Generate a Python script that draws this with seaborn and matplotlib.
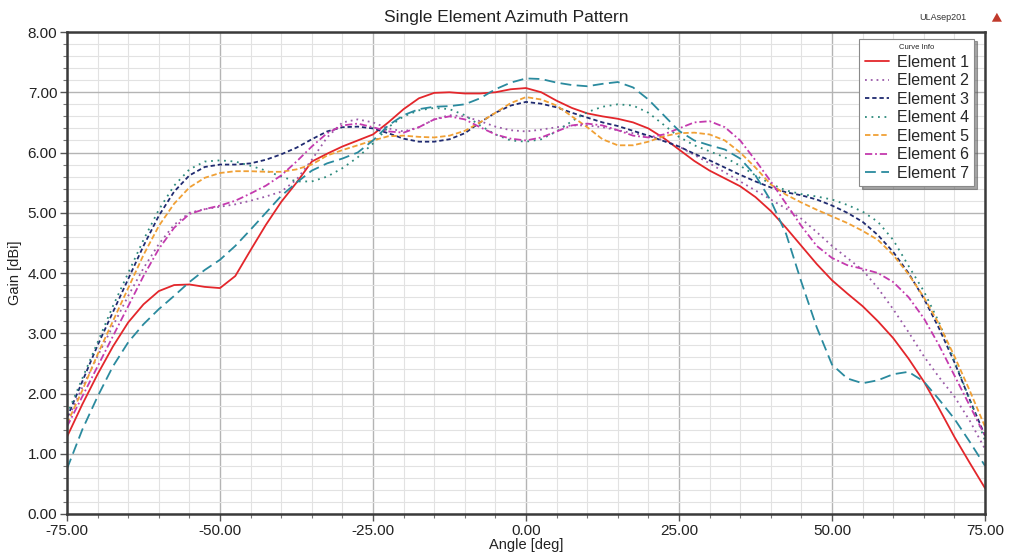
import numpy as np
import pandas as pd
import matplotlib
matplotlib.use("Agg")
import matplotlib.pyplot as plt
from matplotlib.ticker import MultipleLocator, FormatStrFormatter
from matplotlib.patches import Polygon
import seaborn as sns

# Azimuth cut, sampled every 2.5 deg
angle_deg = np.arange(-75.0, 75.01, 2.5)

element_1 = [1.28, 1.82, 2.32, 2.78, 3.18, 3.48, 3.70, 3.80, 3.81, 3.77, 3.75, 3.95, 4.38, 4.80, 5.18, 5.50,
             5.85, 5.98, 6.10, 6.20, 6.30, 6.50, 6.72, 6.90, 6.99, 7.00, 6.98, 6.98, 7.00, 7.05, 7.07,
             7.00, 6.86, 6.74, 6.65, 6.60, 6.56, 6.50, 6.40, 6.24, 6.05, 5.86, 5.70, 5.57, 5.44, 5.26,
             5.03, 4.75, 4.45, 4.15, 3.88, 3.66, 3.45, 3.20, 2.92, 2.58, 2.20, 1.75, 1.28, 0.85, 0.43]
element_2 = [1.55, 2.10, 2.62, 3.12, 3.62, 4.08, 4.48, 4.80, 5.00, 5.06, 5.10, 5.14, 5.20, 5.27, 5.35, 5.55,
             5.88, 6.25, 6.50, 6.55, 6.50, 6.40, 6.35, 6.42, 6.55, 6.62, 6.60, 6.52, 6.43, 6.37, 6.35,
             6.38, 6.42, 6.45, 6.45, 6.42, 6.37, 6.32, 6.28, 6.20, 6.10, 5.96, 5.82, 5.67, 5.52, 5.37,
             5.22, 5.07, 4.90, 4.68, 4.45, 4.25, 4.05, 3.75, 3.40, 3.02, 2.62, 2.27, 1.95, 1.55, 1.08]
element_3 = [1.60, 2.20, 2.80, 3.35, 3.90, 4.45, 4.95, 5.35, 5.62, 5.76, 5.80, 5.80, 5.82, 5.88, 5.97, 6.08,
             6.22, 6.35, 6.42, 6.43, 6.40, 6.32, 6.23, 6.18, 6.18, 6.22, 6.32, 6.50, 6.66, 6.78, 6.84,
             6.81, 6.75, 6.66, 6.58, 6.50, 6.44, 6.36, 6.28, 6.19, 6.10, 5.98, 5.87, 5.75, 5.63, 5.52,
             5.42, 5.34, 5.29, 5.22, 5.12, 5.00, 4.85, 4.63, 4.35, 4.00, 3.58, 3.08, 2.52, 1.90, 1.30]
element_4 = [1.65, 2.25, 2.85, 3.45, 4.00, 4.55, 5.05, 5.45, 5.72, 5.85, 5.87, 5.85, 5.78, 5.70, 5.60, 5.52,
             5.52, 5.60, 5.74, 5.92, 6.15, 6.42, 6.60, 6.70, 6.74, 6.72, 6.62, 6.45, 6.30, 6.20, 6.18,
             6.22, 6.35, 6.52, 6.67, 6.76, 6.80, 6.78, 6.66, 6.46, 6.26, 6.12, 6.02, 5.92, 5.78, 5.62,
             5.48, 5.37, 5.31, 5.27, 5.22, 5.13, 5.02, 4.85, 4.55, 4.12, 3.70, 3.18, 2.55, 1.90, 1.22]
element_5 = [1.50, 2.05, 2.65, 3.20, 3.75, 4.30, 4.78, 5.15, 5.42, 5.58, 5.66, 5.69, 5.69, 5.68, 5.68, 5.72,
             5.80, 5.95, 6.04, 6.12, 6.20, 6.27, 6.28, 6.26, 6.25, 6.28, 6.36, 6.50, 6.66, 6.82, 6.92,
             6.88, 6.78, 6.60, 6.42, 6.22, 6.12, 6.12, 6.18, 6.27, 6.32, 6.33, 6.30, 6.20, 6.00, 5.75,
             5.47, 5.30, 5.17, 5.05, 4.94, 4.83, 4.70, 4.55, 4.30, 3.98, 3.60, 3.15, 2.62, 2.05, 1.45]
element_6 = [1.45, 1.95, 2.45, 2.95, 3.45, 3.95, 4.40, 4.75, 4.98, 5.06, 5.12, 5.20, 5.32, 5.45, 5.62, 5.85,
             6.10, 6.32, 6.45, 6.48, 6.42, 6.35, 6.33, 6.42, 6.55, 6.60, 6.55, 6.42, 6.30, 6.23, 6.20,
             6.25, 6.35, 6.45, 6.48, 6.45, 6.37, 6.28, 6.25, 6.30, 6.40, 6.50, 6.52, 6.42, 6.20, 5.87,
             5.52, 5.15, 4.78, 4.45, 4.25, 4.13, 4.07, 4.00, 3.85, 3.60, 3.25, 2.80, 2.30, 1.80, 1.30]
element_7 = [0.75, 1.40, 1.95, 2.45, 2.85, 3.15, 3.40, 3.62, 3.85, 4.05, 4.22, 4.45, 4.72, 5.00, 5.28, 5.50,
             5.70, 5.82, 5.90, 6.00, 6.20, 6.45, 6.62, 6.72, 6.76, 6.77, 6.80, 6.90, 7.05, 7.16, 7.23,
             7.22, 7.16, 7.12, 7.10, 7.14, 7.17, 7.08, 6.88, 6.62, 6.36, 6.20, 6.12, 6.05, 5.90, 5.62,
             5.20, 4.65, 3.85, 3.10, 2.48, 2.25, 2.17, 2.22, 2.32, 2.36, 2.20, 1.90, 1.58, 1.20, 0.80]

element_names = [f"Element {i}" for i in range(1, 8)]
series = [element_1, element_2, element_3, element_4, element_5, element_6, element_7]

df = pd.concat(
    [pd.DataFrame({"Angle [deg]": angle_deg, "Gain [dBi]": vals, "Element": name})
     for name, vals in zip(element_names, series)],
    ignore_index=True,
)

palette = {
    "Element 1": "#e3262b",
    "Element 2": "#9a5aa8",
    "Element 3": "#1f2a70",
    "Element 4": "#2d8a7c",
    "Element 5": "#f0a035",
    "Element 6": "#c43aae",
    "Element 7": "#2a8a9e",
}
dashes = {
    "Element 1": "",
    "Element 2": (1, 2.2),
    "Element 3": (2.4, 1.6),
    "Element 4": (1, 2.6),
    "Element 5": (3, 1.5),
    "Element 6": (4, 1.6, 1, 1.6),
    "Element 7": (6, 3),
}

sns.set_theme(style="white")
plt.rcParams["font.family"] = ["Liberation Sans", "DejaVu Sans"]

fig = plt.figure(figsize=(10.09, 5.57), dpi=100)
ax = fig.add_axes([0.0664, 0.0772, 0.9098, 0.8653])

sns.lineplot(data=df, x="Angle [deg]", y="Gain [dBi]", hue="Element", style="Element",
             palette=palette, dashes=dashes, linewidth=1.3, ax=ax, sort=False)

ax.set_xlim(-75, 75)
ax.set_ylim(0, 8)
ax.xaxis.set_major_locator(MultipleLocator(25))
ax.xaxis.set_minor_locator(MultipleLocator(5))
ax.yaxis.set_major_locator(MultipleLocator(1))
ax.yaxis.set_minor_locator(MultipleLocator(0.2))
ax.xaxis.set_major_formatter(FormatStrFormatter("%.2f"))
ax.yaxis.set_major_formatter(FormatStrFormatter("%.2f"))

ax.grid(which="major", color="#b4b4b4", linewidth=1.0)
ax.grid(which="minor", color="#e2e2e2", linewidth=0.8)
ax.set_axisbelow(True)

for s in ax.spines.values():
    s.set_color("#3a3a3a")
    s.set_linewidth(1.8)

ax.tick_params(which="major", direction="out", length=5, width=1, color="#555555",
               labelsize=11, labelcolor="#222222", pad=2, bottom=True, left=True)
ax.tick_params(which="minor", direction="out", length=3, width=0.8, color="#777777",
               bottom=True, left=True)

ax.set_xlabel("Angle [deg]", fontsize=10.5, color="#222222", labelpad=0)
ax.set_ylabel("Gain [dBi]", fontsize=10.5, color="#222222", labelpad=4)

fig.text(0.502, 0.968, "Single Element Azimuth Pattern", ha="center", va="center",
         fontsize=12.5, color="#222222")
fig.text(0.958, 0.968, "ULAsep201", ha="right", va="center", fontsize=6.5, color="#333333")
tri = Polygon([[0.983, 0.961], [0.993, 0.961], [0.988, 0.977]], closed=True,
              transform=fig.transFigure, facecolor="#c0392b", edgecolor="none")
fig.patches.append(tri)

handles, labels = ax.get_legend_handles_labels()
ax.get_legend().remove()
leg = ax.legend(handles, labels, title="Curve Info", loc="upper right",
                bbox_to_anchor=(0.992, 0.993), fontsize=11.5, title_fontsize=5.5,
                frameon=True, fancybox=False, shadow=True, framealpha=1,
                edgecolor="#8a8a8a", handlelength=1.5, handletextpad=0.5,
                labelspacing=0.22, borderpad=0.35, borderaxespad=0.2)
leg.get_frame().set_linewidth(0.8)

fig.savefig("out.png", dpi=100)
